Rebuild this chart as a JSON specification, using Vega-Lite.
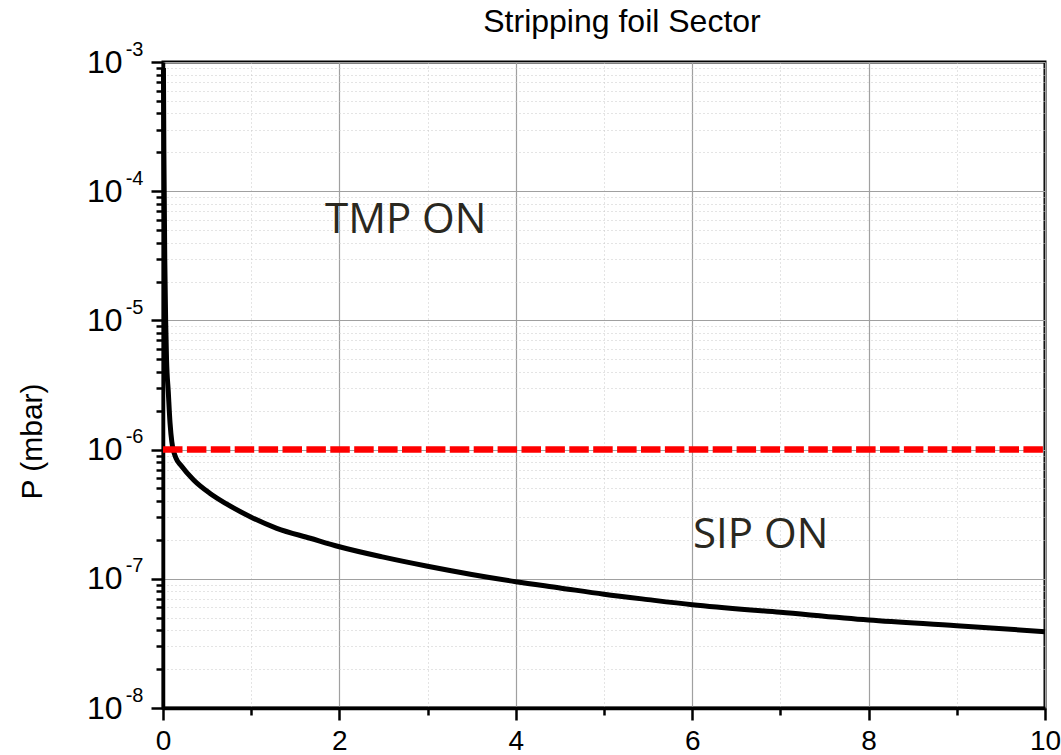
{
  "$schema": "https://vega.github.io/schema/vega-lite/v6.json",
  "width": 882,
  "height": 646,
  "autosize": "none",
  "padding": {"left": 163, "top": 62, "right": 16, "bottom": 47},
  "background": "white",
  "title": {"text": "Stripping foil Sector", "font": "Liberation Sans", "fontSize": 32, "fontWeight": "normal", "color": "black", "anchor": "middle", "dx": 18, "baseline": "alphabetic", "offset": -25},
  "config": {
    "view": {"stroke": "black", "strokeWidth": 3},
    "axis": {"labelFont": "Liberation Sans", "titleFont": "Liberation Sans", "labelColor": "black", "titleColor": "black", "tickColor": "black", "domainColor": "black"}
  },
  "datasets": {
    "curve": [
      {"t": 0.005, "p": 0.0009},
      {"t": 0.01, "p": 0.0002},
      {"t": 0.02, "p": 0.00003},
      {"t": 0.03, "p": 0.00001},
      {"t": 0.04, "p": 0.000005},
      {"t": 0.06, "p": 0.0000028},
      {"t": 0.08, "p": 0.0000016},
      {"t": 0.1, "p": 0.00000115},
      {"t": 0.15, "p": 0.00000085},
      {"t": 0.2, "p": 0.00000076},
      {"t": 0.35, "p": 0.00000058},
      {"t": 0.53, "p": 0.00000046},
      {"t": 0.72, "p": 0.00000038},
      {"t": 1.0, "p": 0.0000003},
      {"t": 1.29, "p": 0.000000246},
      {"t": 1.67, "p": 0.000000206},
      {"t": 2.0, "p": 0.000000177},
      {"t": 2.5, "p": 0.000000147},
      {"t": 3.0, "p": 0.000000125},
      {"t": 3.5, "p": 0.000000108},
      {"t": 4.0, "p": 0.000000095},
      {"t": 4.5, "p": 0.000000085},
      {"t": 5.0, "p": 0.000000076},
      {"t": 5.5, "p": 0.000000069},
      {"t": 6.0, "p": 0.000000063},
      {"t": 7.0, "p": 0.000000055},
      {"t": 8.0, "p": 0.000000048},
      {"t": 9.0, "p": 0.0000000434},
      {"t": 10.0, "p": 0.000000039}
    ],
    "limit": [{"t0": 0, "t1": 10, "p": 0.000001}],
    "notes": [
      {"t": 1.837, "p": 0.0000477, "label": "TMP ON"},
      {"t": 6.01, "p": 0.000000172, "label": "SIP ON"}
    ]
  },
  "resolve": {"axis": {"x": "independent", "y": "independent"}},
  "layer": [
    {
      "data": {"name": "curve"},
      "mark": {"type": "line", "color": "black", "strokeWidth": 5, "interpolate": "monotone"},
      "encoding": {
        "x": {"field": "t", "type": "quantitative", "scale": {"domain": [0, 10], "nice": false, "zero": false},
          "axis": {"orient": "bottom", "values": [0, 2, 4, 6, 8, 10], "title": null, "grid": true, "gridColor": "#a0a0a0", "gridWidth": 1.2, "tickSize": 12, "tickWidth": 2.5, "domainWidth": 3.5, "labelFontSize": 28, "labelPadding": 7, "labelFlush": false, "labelOverlap": false}},
        "y": {"field": "p", "type": "quantitative", "scale": {"type": "log", "domain": [1e-8, 0.001], "nice": false},
          "axis": {"orient": "left", "values": [1e-8, 1e-7, 1e-6, 1e-5, 1e-4, 1e-3], "labelExpr": "'10'", "title": "P (mbar)", "titleFontSize": 30, "titleFontWeight": "normal", "titleX": -131, "titleY": 379, "titleAlign": "center", "titleBaseline": "middle", "titleAngle": -90, "grid": true, "gridColor": "#a0a0a0", "gridWidth": 1.2, "tickSize": 12, "tickWidth": 2.5, "domainWidth": 3.5, "labelFontSize": 32, "labelPadding": 29, "labelBaseline": "middle", "labelFlush": false, "labelOverlap": false}}
      }
    },
    {
      "data": {"name": "limit"},
      "mark": {"type": "rule", "color": "#ff0000", "strokeWidth": 6.5, "strokeDash": [19.5, 4.4]},
      "encoding": {
        "x": {"field": "t0", "type": "quantitative", "scale": {"domain": [0, 10], "nice": false, "zero": false},
          "axis": {"orient": "bottom", "values": [1, 3, 5, 7, 9], "title": null, "grid": true, "gridColor": "#c8c8c8", "gridWidth": 1, "gridDash": [1, 3], "tickSize": 7, "tickWidth": 2.5, "domain": false, "labels": false}},
        "x2": {"field": "t1"},
        "y": {"field": "p", "type": "quantitative", "scale": {"type": "log", "domain": [1e-8, 0.001], "nice": false},
          "axis": {"orient": "left", "values": [2e-8, 3e-8, 4e-8, 5e-8, 6e-8, 7e-8, 8e-8, 9e-8, 2e-7, 3e-7, 4e-7, 5e-7, 6e-7, 7e-7, 8e-7, 9e-7, 2e-6, 3e-6, 4e-6, 5e-6, 6e-6, 7e-6, 8e-6, 9e-6, 2e-5, 3e-5, 4e-5, 5e-5, 6e-5, 7e-5, 8e-5, 9e-5, 2e-4, 3e-4, 4e-4, 5e-4, 6e-4, 7e-4, 8e-4, 9e-4], "title": null, "grid": true, "gridColor": "#c8c8c8", "gridWidth": 1, "gridDash": [1, 3], "tickSize": 7, "tickWidth": 2.5, "domain": false, "labels": false}}
      }
    },
    {
      "data": {"name": "notes"},
      "mark": {"type": "text", "font": "Open Sans", "fontSize": 42, "color": "#2a2820", "align": "left", "baseline": "alphabetic"},
      "encoding": {
        "x": {"field": "t", "type": "quantitative", "scale": {"domain": [0, 10], "nice": false, "zero": false}, "axis": null},
        "y": {"field": "p", "type": "quantitative", "scale": {"type": "log", "domain": [1e-8, 0.001], "nice": false},
          "axis": {"orient": "left", "values": [1e-8, 1e-7, 1e-6, 1e-5, 1e-4, 1e-3], "labelExpr": "'' + round(log(datum.value) / LN10)", "title": null, "grid": false, "ticks": false, "domain": false, "labelFontSize": 20, "labelPadding": 20, "labelOffset": -13, "labelBaseline": "middle", "labelFlush": false, "labelOverlap": false}},
        "text": {"field": "label"}
      }
    }
  ]
}
